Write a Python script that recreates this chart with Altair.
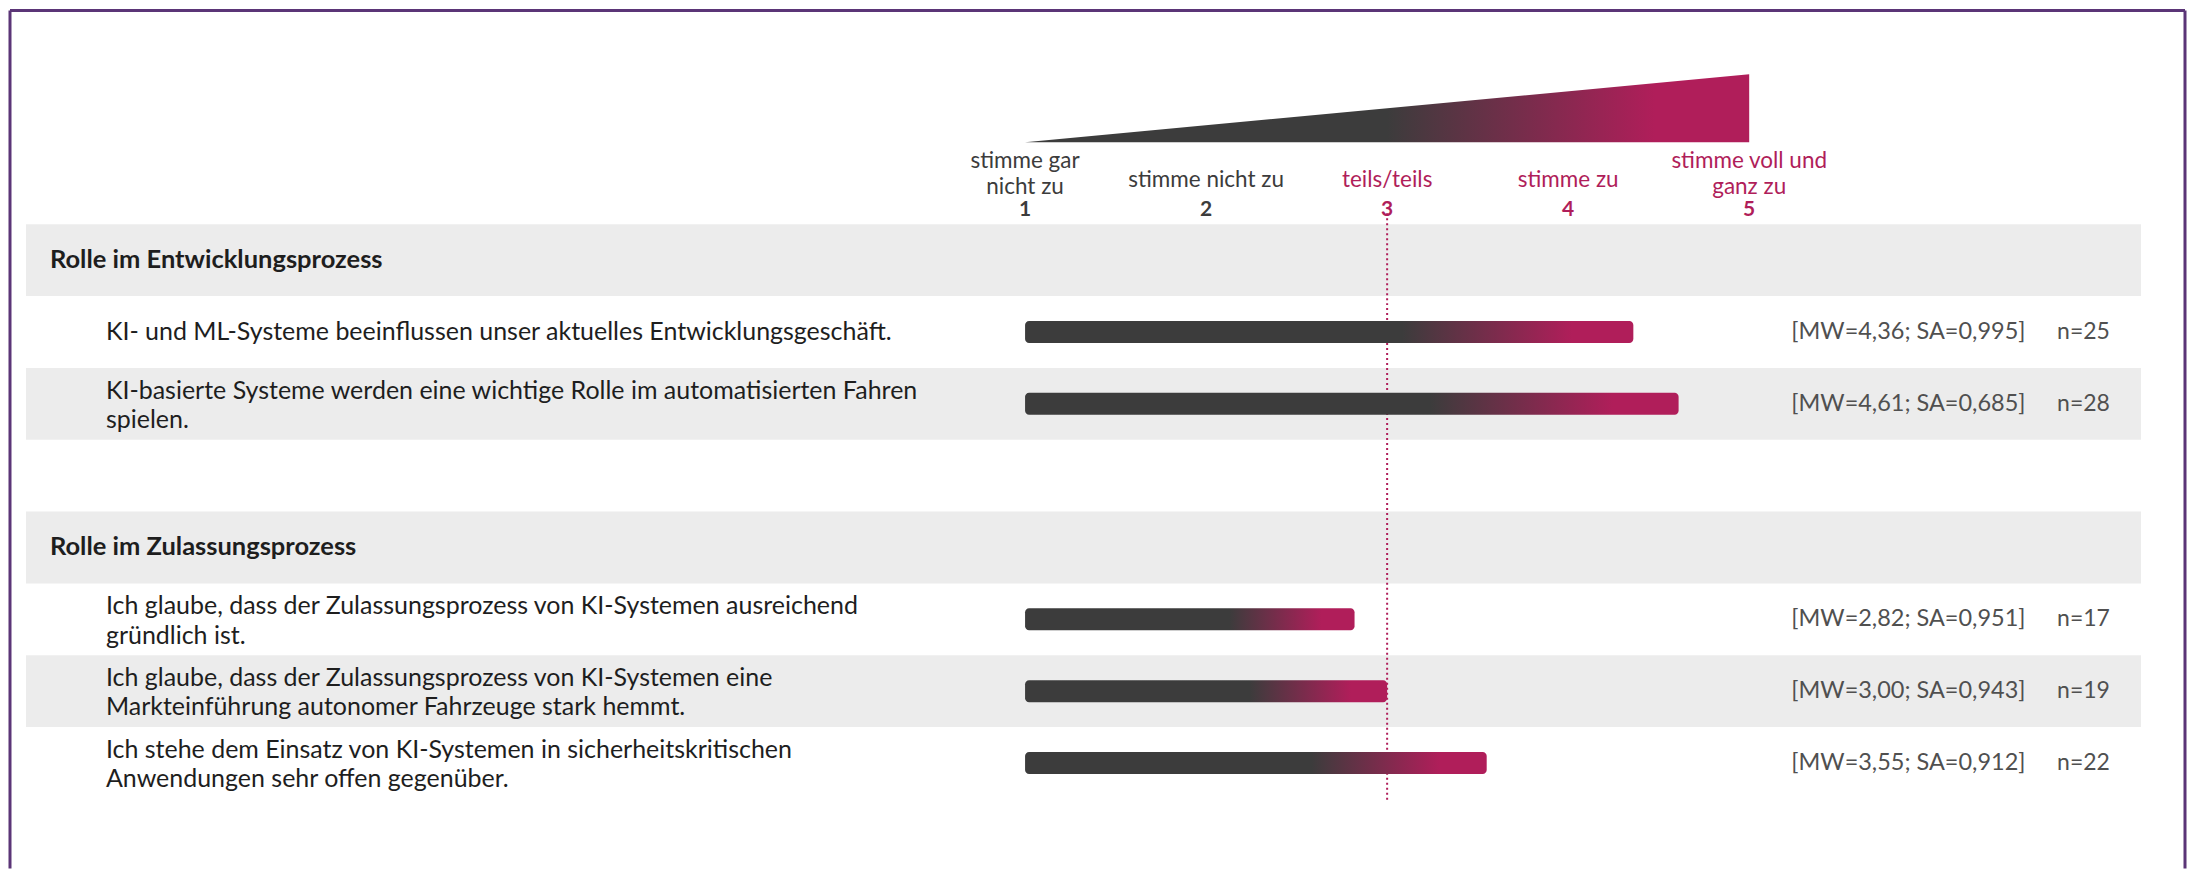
import altair as alt
import pandas as pd

# ---------------- data ----------------
sections = ["Rolle im Entwicklungsprozess", "Rolle im Zulassungsprozess"]
items = [
    "KI- und ML-Systeme beeinflussen unser aktuelles Entwicklungsgeschäft.",
    "KI-basierte Systeme werden eine wichtige Rolle im automatisierten Fahren\nspielen.",
    "Ich glaube, dass der Zulassungsprozess von KI-Systemen ausreichend\ngründlich ist.",
    "Ich glaube, dass der Zulassungsprozess von KI-Systemen eine\nMarkteinführung autonomer Fahrzeuge stark hemmt.",
    "Ich stehe dem Einsatz von KI-Systemen in sicherheitskritischen\nAnwendungen sehr offen gegenüber.",
]
item_section = [0, 0, 1, 1, 1]
mw = [4.36, 4.61, 2.82, 3.00, 3.55]
sa = [0.995, 0.685, 0.951, 0.943, 0.912]
n_resp = [25, 28, 17, 19, 22]
scale_points = [1, 2, 3, 4, 5]
scale_labels = ["stimme gar\nnicht zu", "stimme nicht zu", "teils/teils",
                "stimme zu", "stimme voll und\nganz zu"]
midpoint = 3

# ---------------- layout ----------------
W, H = 2179, 860
ORIGIN = 8
X1_PX = 1025.0      # page x of scale value 1
UNIT_X = 181.2      # px per scale unit
ROW0_PX = 259.0     # page y of first row centre
UNIT_Y = 71.9       # px per row
ITEM_LH = 29.4      # line height of item labels (px)
SCALE_LH = 26.0     # line height of scale labels (px)

def sx(px):
    return 1 + (px - X1_PX) / UNIT_X

def sy(py):
    return (py - ROW0_PX) / UNIT_Y

XS = alt.Scale(domain=[sx(ORIGIN), sx(ORIGIN + W)], nice=False, zero=False)
YS = alt.Scale(domain=[sy(ORIGIN), sy(ORIGIN + H)], nice=False, zero=False, reverse=True)

DARK = "#3c3c3c"
MAG = "#b01e5a"
TXT = "#1e1e1e"
FONT = "Lato"

def X(f):
    return alt.X(f, type="quantitative", scale=XS, axis=None)

def X2(f):
    return alt.X2(f)

def Y(f):
    return alt.Y(f, type="quantitative", scale=YS, axis=None)

def Y2(f):
    return alt.Y2(f)

# rows: header, items..., blank row between sections
rows_header, rows_item = [], []
r = 0
for si, s in enumerate(sections):
    if si > 0:
        r += 1
    rows_header.append(r)
    r += 1
    for k in range(len(items)):
        if item_section[k] == si:
            rows_item.append(r)
            r += 1
n_rows = r

fmt = lambda v, d: f"{v:.{d}f}".replace(".", ",")

df_items = pd.DataFrame({
    "row": rows_item,
    "mw": mw,
    "start": [scale_points[0]] * len(items),
    "stat": [f"[MW={fmt(m, 2)}; SA={fmt(s, 3)}]" for m, s in zip(mw, sa)],
    "n": [f"n={v}" for v in n_resp],
})
half_bar = 11 / UNIT_Y
df_items["y0"] = df_items["row"] - half_bar
df_items["y1"] = df_items["row"] + half_bar
df_items["sx_"] = sx(1792)
df_items["nx"] = sx(2058)

# item label lines, vertically centred in their row
line_rows = []
for rr, lab in zip(rows_item, items):
    parts = lab.split("\n")
    for i, p in enumerate(parts):
        off = (i - (len(parts) - 1) / 2) * ITEM_LH / UNIT_Y
        line_rows.append({"y": rr + off + 1.5 / UNIT_Y * (len(parts) > 1), "text": p})
df_lines = pd.DataFrame(line_rows)
df_lines["lx"] = sx(105)

df_head = pd.DataFrame({"row": rows_header, "label": sections, "lx": sx(49)})

band_rows = [i for i in range(n_rows) if i % 2 == 0]
df_band = pd.DataFrame({"row": band_rows})
df_band["y0"] = df_band["row"] - 0.5
df_band["y1"] = df_band["row"] + 0.5
df_band["x0"] = sx(25)
df_band["x1"] = sx(2142)

# scale labels, split in lines
sc_rows = []
for p, lab in zip(scale_points, scale_labels):
    parts = lab.split("\n")
    if len(parts) == 1:
        sc_rows.append({"p": p, "y": sy(179), "text": parts[0]})
    else:
        for i, t in enumerate(parts):
            sc_rows.append({"p": p, "y": sy(186 - (len(parts) - 1 - i) * SCALE_LH), "text": t})
df_scale = pd.DataFrame(sc_rows)
df_num = pd.DataFrame({"p": scale_points, "num": [str(v) for v in scale_points]})
df_num["ny"] = sy(209)

df_tri = pd.DataFrame({"x": [scale_points[0], scale_points[-1]],
                       "top": [sy(141), sy(73)], "base": [sy(141), sy(141)]})

df_mid = pd.DataFrame({"x": [midpoint], "y0": [sy(212)], "y1": [sy(800)]})

df_border = pd.DataFrame({
    "x0": [sx(9), sx(9), sx(2186)],
    "x1": [sx(9), sx(2186), sx(2186)],
    "y0": [sy(9), sy(9), sy(9)],
    "y1": [sy(ORIGIN + H), sy(9), sy(ORIGIN + H)],
})

bar_grad = alt.LinearGradient(
    gradient="linear", x1=0, x2=1, y1=0, y2=0,
    stops=[alt.GradientStop(offset=0, color=DARK),
           alt.GradientStop(offset=0.62, color=DARK),
           alt.GradientStop(offset=0.9, color=MAG),
           alt.GradientStop(offset=1, color=MAG)])
tri_grad = alt.LinearGradient(
    gradient="linear", x1=0, x2=1, y1=0, y2=0,
    stops=[alt.GradientStop(offset=0, color=DARK),
           alt.GradientStop(offset=0.5, color=DARK),
           alt.GradientStop(offset=0.87, color=MAG),
           alt.GradientStop(offset=1, color=MAG)])

bands = alt.Chart(df_band).mark_rect(color="#ececec").encode(
    x=X("x0"), x2=X2("x1"), y=Y("y0"), y2=Y2("y1"))

border = alt.Chart(df_border).mark_rule(color="#5b3577", strokeWidth=3).encode(
    x=X("x0"), x2=X2("x1"), y=Y("y0"), y2=Y2("y1"))

tri = alt.Chart(df_tri).mark_area(fill=tri_grad).encode(
    x=X("x"), y=Y("top"), y2=Y2("base"))

scale_col = alt.condition(f"datum.p >= {midpoint}", alt.value(MAG), alt.value(DARK))

scale_txt = alt.Chart(df_scale).mark_text(
    font=FONT, fontSize=22.5, align="center", baseline="middle").encode(
    x=X("p"), y=Y("y"), text="text:N", color=scale_col)

scale_num = alt.Chart(df_num).mark_text(
    font=FONT, fontSize=21, fontWeight="bold", align="center",
    baseline="middle").encode(x=X("p"), y=Y("ny"), text="num:N", color=scale_col)

mid = alt.Chart(df_mid).mark_rule(color=MAG, strokeWidth=2, strokeDash=[2, 3]).encode(
    x=X("x"), y=Y("y0"), y2=Y2("y1"))

bars = alt.Chart(df_items).mark_rect(fill=bar_grad, cornerRadius=4).encode(
    x=X("start"), x2=X2("mw"), y=Y("y0"), y2=Y2("y1"))

head = alt.Chart(df_head).mark_text(
    font=FONT, fontSize=25.5, fontWeight="bold", align="left", baseline="middle",
    color=TXT).encode(x=X("lx"), y=Y("row"), text="label:N")

lab = alt.Chart(df_lines).mark_text(
    font=FONT, fontSize=25, align="left", baseline="middle",
    color=TXT).encode(x=X("lx"), y=Y("y"), text="text:N")

stat = alt.Chart(df_items).mark_text(
    font=FONT, fontSize=23.5, align="left", baseline="middle",
    color="#505050").encode(x=X("sx_"), y=Y("row"), text="stat:N")

ntxt = alt.Chart(df_items).mark_text(
    font=FONT, fontSize=23, align="left", baseline="middle",
    color="#505050").encode(x=X("nx"), y=Y("row"), text="n:N")

chart = alt.layer(bands, border, tri, scale_txt, scale_num, mid, bars, head, lab, stat, ntxt).properties(
    width=W, height=H, padding=0, background="white"
).configure_view(stroke=None)

chart.save("out.html", embed_options={"renderer": "svg", "actions": False})
